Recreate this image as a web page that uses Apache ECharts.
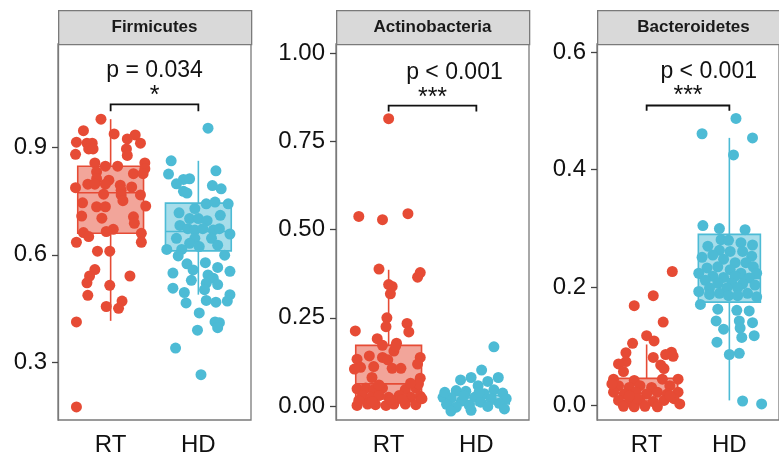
<!DOCTYPE html>
<html><head><meta charset="utf-8">
<script src="https://cdn.jsdelivr.net/npm/echarts@6/dist/echarts.min.js"></script>
<style>html,body{margin:0;padding:0;background:#fff}#c{width:779px;height:457px}</style>
</head><body><div id="c"></div>
<script>
// ---------- data ----------
const groups = ['RT', 'HD'];
const panels = ['Firmicutes', 'Actinobacteria', 'Bacteroidetes'];
const yTicks = [[0.3, 0.6, 0.9], [0, 0.25, 0.5, 0.75, 1.0], [0, 0.2, 0.4, 0.6]];
const yTickLabels = [['0.3', '0.6', '0.9'], ['0.00', '0.25', '0.50', '0.75', '1.00'], ['0.0', '0.2', '0.4', '0.6']];
const yRange = [[0.1397, 1.1875], [-0.0393, 1.0253], [-0.0253, 0.6135]];
const pLabels = ['p = 0.034', 'p < 0.001', 'p < 0.001'];
const starLabels = ['*', '***', '***'];
// bracket: [line value, tick-end value]; p text [x, y]; stars [x, y]
const bracketY = [[1.019, 1.0], [0.851, 0.834], [0.509, 0.500]];
const pTextPos = [[1.5, 1.112], [1.75, 0.944], [1.75, 0.567]];
const starPos = [[1.5, 1.041], [1.5, 0.871], [1.5, 0.525]];

// box stats [min, q1, median, q3, max]
const firmRTBox = [0.416, 0.660, 0.773, 0.847, 0.978];
const firmHDBox = [0.489, 0.611, 0.665, 0.744, 0.862];
const actRTBox = [0.0, 0.020, 0.063, 0.172, 0.386];
const actHDBox = [0.0, 0.006, 0.015, 0.030, 0.066];
const bactRTBox = [0.0, 0.007, 0.020, 0.0455, 0.103];
const bactHDBox = [0.008, 0.175, 0.215, 0.290, 0.454];

// points [jitter offset from group, value]
const firmRT = [[-0.11,0.978],[-0.31,0.946],[0.04,0.937],[0.28,0.934],[0.19,0.923],[-0.39,0.914],[-0.27,0.911],[-0.21,0.911],[0.34,0.911],[-0.25,0.895],[-0.20,0.895],[0.18,0.895],[-0.40,0.880],[0.19,0.877],[-0.18,0.856],[0.39,0.856],[-0.06,0.847],[0.08,0.847],[0.39,0.840],[-0.16,0.831],[0.26,0.826],[0.37,0.826],[-0.16,0.812],[-0.02,0.808],[-0.26,0.797],[-0.18,0.797],[-0.06,0.797],[0.11,0.794],[0.24,0.789],[-0.40,0.787],[0.12,0.780],[-0.08,0.769],[0.12,0.767],[0.34,0.767],[0.14,0.751],[-0.32,0.745],[-0.16,0.734],[-0.06,0.734],[0.40,0.736],[-0.33,0.708],[-0.10,0.702],[0.26,0.706],[0.27,0.688],[0.03,0.671],[-0.05,0.665],[-0.31,0.662],[-0.25,0.651],[0.35,0.660],[-0.39,0.635],[0.35,0.635],[-0.15,0.610],[-0.01,0.610],[-0.18,0.559],[-0.24,0.541],[0.22,0.541],[-0.27,0.522],[-0.01,0.515],[-0.26,0.487],[0.13,0.471],[-0.05,0.456],[0.09,0.451],[-0.39,0.413],[-0.39,0.176]];
const firmHD = [[0.11,0.953],[-0.31,0.862],[0.20,0.834],[-0.34,0.825],[-0.17,0.810],[-0.10,0.812],[-0.25,0.798],[0.16,0.793],[0.26,0.784],[-0.17,0.777],[-0.13,0.772],[0.09,0.742],[0.19,0.747],[0.34,0.742],[-0.04,0.729],[-0.22,0.717],[0.25,0.710],[-0.10,0.701],[0.00,0.701],[0.10,0.695],[-0.21,0.682],[-0.12,0.673],[-0.04,0.669],[0.05,0.673],[0.17,0.669],[0.24,0.673],[0.36,0.658],[-0.25,0.646],[-0.04,0.646],[0.15,0.646],[0.22,0.627],[-0.10,0.632],[0.01,0.623],[-0.36,0.615],[-0.19,0.615],[-0.23,0.597],[0.30,0.599],[-0.13,0.575],[0.08,0.578],[0.22,0.565],[-0.06,0.558],[0.36,0.554],[-0.29,0.549],[0.11,0.544],[0.17,0.535],[-0.08,0.529],[0.09,0.521],[0.22,0.517],[-0.29,0.507],[-0.16,0.495],[0.07,0.503],[0.36,0.489],[-0.14,0.466],[0.09,0.473],[0.20,0.468],[0.33,0.471],[0.01,0.438],[0.19,0.413],[0.24,0.411],[0.22,0.397],[-0.01,0.390],[-0.26,0.340],[0.03,0.266]];
const actRT = [[0.00,0.814],[-0.34,0.537],[-0.07,0.528],[0.22,0.545],[-0.11,0.388],[0.36,0.378],[0.33,0.365],[0.00,0.344],[0.04,0.339],[0.02,0.318],[-0.02,0.250],[-0.03,0.225],[0.21,0.234],[0.23,0.210],[-0.38,0.213],[-0.13,0.191],[0.09,0.178],[-0.07,0.172],[0.06,0.156],[0.36,0.138],[-0.36,0.133],[-0.22,0.142],[-0.07,0.138],[-0.01,0.131],[-0.32,0.110],[-0.17,0.112],[0.04,0.107],[0.14,0.107],[0.33,0.119],[-0.19,0.081],[0.36,0.079],[-0.36,0.049],[-0.26,0.051],[-0.17,0.047],[-0.07,0.051],[0.19,0.047],[0.31,0.051],[-0.30,0.030],[-0.20,0.025],[-0.11,0.030],[0.00,0.025],[0.12,0.030],[0.25,0.025],[0.36,0.028],[-0.36,0.002],[-0.24,0.006],[-0.15,0.004],[-0.03,0.002],[0.06,0.006],[0.19,0.006],[0.31,0.004],[0.38,0.021],[-0.34,0.016],[0.16,0.019],[0.02,0.019],[-0.19,0.013],[0.34,0.063],[-0.39,0.105],[0.08,0.170],[-0.11,0.060],[0.25,0.065]];
const actHD = [[0.20,0.168],[0.06,0.102],[-0.18,0.074],[-0.06,0.081],[0.13,0.070],[0.25,0.081],[0.02,0.058],[0.20,0.046],[-0.23,0.044],[-0.12,0.042],[0.09,0.035],[0.30,0.037],[-0.38,0.025],[-0.29,0.023],[-0.02,0.025],[0.17,0.021],[0.34,0.021],[-0.17,0.014],[0.05,0.011],[0.26,0.008],[-0.34,0.005],[-0.23,-0.003],[-0.08,0.002],[0.13,-0.001],[-0.29,-0.014],[-0.06,-0.012],[0.32,-0.008],[-0.14,0.030],[0.03,0.039],[-0.36,0.039]];
const bactRT = [[0.31,0.227],[0.08,0.186],[-0.15,0.169],[0.20,0.141],[0.00,0.118],[0.09,0.109],[-0.17,0.105],[-0.25,0.089],[0.30,0.090],[0.23,0.086],[0.32,0.083],[0.08,0.081],[-0.25,0.074],[-0.34,0.070],[0.17,0.068],[0.21,0.062],[-0.28,0.057],[-0.40,0.044],[-0.15,0.042],[0.19,0.044],[0.38,0.044],[-0.34,0.033],[-0.21,0.030],[-0.08,0.033],[0.06,0.030],[0.28,0.033],[-0.40,0.022],[-0.27,0.019],[-0.13,0.022],[0.00,0.019],[0.13,0.022],[0.25,0.019],[0.38,0.022],[-0.34,0.008],[-0.21,0.006],[-0.08,0.008],[0.08,0.006],[0.21,0.008],[0.33,0.011],[-0.28,-0.002],[-0.15,-0.003],[-0.02,-0.002],[0.13,-0.003],[0.40,0.002],[-0.42,0.036],[-0.11,0.011],[-0.21,0.016],[0.28,0.016]];
const bactHD = [[0.08,0.487],[-0.33,0.461],[0.28,0.454],[0.05,0.425],[-0.32,0.305],[-0.12,0.300],[0.19,0.298],[-0.10,0.281],[-0.01,0.280],[0.14,0.276],[-0.26,0.270],[0.28,0.272],[-0.12,0.263],[0.01,0.261],[0.16,0.261],[-0.20,0.255],[0.27,0.253],[-0.33,0.251],[-0.07,0.248],[0.07,0.242],[0.20,0.242],[-0.14,0.235],[-0.27,0.233],[0.29,0.235],[0.01,0.230],[-0.37,0.224],[0.14,0.224],[0.33,0.224],[-0.20,0.219],[-0.07,0.217],[0.07,0.219],[0.24,0.216],[-0.29,0.212],[-0.14,0.207],[0.03,0.207],[0.16,0.206],[0.31,0.204],[-0.24,0.199],[-0.03,0.199],[0.10,0.199],[-0.37,0.193],[-0.12,0.190],[0.22,0.190],[-0.24,0.188],[-0.01,0.186],[0.10,0.186],[0.33,0.184],[-0.35,0.171],[-0.14,0.163],[0.09,0.161],[0.24,0.160],[-0.16,0.143],[0.12,0.143],[0.28,0.140],[-0.07,0.129],[0.13,0.131],[0.15,0.115],[0.30,0.118],[-0.15,0.107],[0.00,0.086],[0.12,0.088],[0.16,0.007],[0.39,0.002]];

// ---------- styling ----------
const FONT = 'Liberation Sans, Arial, Helvetica, sans-serif';
const COLORS = ['#E64B35', '#4DBBD5'];
const FILLS = ['rgba(230,75,53,0.5)', 'rgba(77,187,213,0.5)'];
const BORDER = '#7a7a7a';
const gridLeft = [58, 336, 597];
const gridW = 193;
const gridTop = 44, gridH = 379;

const pointsData = [[firmRT, firmHD], [actRT, actHD], [bactRT, bactHD]];
const boxData = [[firmRTBox, firmHDBox], [actRTBox, actHDBox], [bactRTBox, bactHDBox]];

function boxRender(params, api) {
  const x = api.value(0), mn = api.value(1), q1 = api.value(2), md = api.value(3), q3 = api.value(4), mx = api.value(5);
  const gi = api.value(6);
  const col = COLORS[gi];
  const pTop = api.coord([x, mx]), pQ3 = api.coord([x, q3]), pQ1 = api.coord([x, q1]), pBot = api.coord([x, mn]);
  const tl = api.coord([x - 0.375, q3]), br = api.coord([x + 0.375, q1]);
  const ml = api.coord([x - 0.375, md]), mr = api.coord([x + 0.375, md]);
  return {
    type: 'group', children: [
      { type: 'line', shape: { x1: pTop[0], y1: pTop[1], x2: pQ3[0], y2: pQ3[1] }, style: { stroke: col, lineWidth: 1.6 } },
      { type: 'line', shape: { x1: pQ1[0], y1: pQ1[1], x2: pBot[0], y2: pBot[1] }, style: { stroke: col, lineWidth: 1.6 } },
      { type: 'rect', shape: { x: tl[0], y: tl[1], width: br[0] - tl[0], height: br[1] - tl[1] }, style: { fill: FILLS[gi], stroke: col, lineWidth: 1.6 } },
      { type: 'line', shape: { x1: ml[0], y1: ml[1], x2: mr[0], y2: mr[1] }, style: { stroke: col, lineWidth: 1.6 } }
    ]
  };
}

function annotRender(pi) {
  return function (params, api) {
    const a = api.coord([1, bracketY[pi][1]]), b = api.coord([1, bracketY[pi][0]]);
    const c = api.coord([2, bracketY[pi][0]]), d = api.coord([2, bracketY[pi][1]]);
    const pt = api.coord(pTextPos[pi]), st = api.coord(starPos[pi]);
    return {
      type: 'group', children: [
        { type: 'polyline', shape: { points: [a, b, c, d] }, style: { stroke: '#111', lineWidth: 1.8, fill: null } },
        { type: 'text', x: pt[0], y: pt[1], style: { text: pLabels[pi], fill: '#111', fontSize: 23, fontFamily: FONT, align: 'center', verticalAlign: 'middle' } },
        { type: 'text', x: st[0], y: st[1], style: { text: starLabels[pi], fill: '#111', fontSize: 25, fontFamily: FONT, align: 'center', verticalAlign: 'middle' } }
      ]
    };
  };
}

const grid = [], xAxis = [], yAxis = [], series = [], graphic = [];
panels.forEach((name, pi) => {
  grid.push({ left: gridLeft[pi], top: gridTop, width: gridW, height: gridH, show: true, borderColor: BORDER, borderWidth: 1.3, backgroundColor: '#fff', containLabel: false });
  xAxis.push({
    type: 'value', gridIndex: pi, min: 0.4, max: 2.6,
    axisLine: { show: false }, axisTick: { show: false }, splitLine: { show: false },
    axisLabel: { customValues: [1, 2], formatter: v => groups[Math.round(v) - 1], fontSize: 24, color: '#111', fontFamily: FONT, margin: 13 }
  });
  yAxis.push({
    type: 'value', gridIndex: pi, min: yRange[pi][0], max: yRange[pi][1],
    axisLine: { show: true, lineStyle: { color: BORDER, width: 1.3 } },
    axisTick: { show: true, length: 6, customValues: yTicks[pi], lineStyle: { color: '#444', width: 1.3 } },
    splitLine: { show: false },
    axisLabel: {
      customValues: yTicks[pi], fontSize: 24, color: '#111', fontFamily: FONT, margin: 11,
      formatter: v => { const k = yTicks[pi].findIndex(t => Math.abs(t - v) < 1e-9); return k >= 0 ? yTickLabels[pi][k] : ''; }
    }
  });
  series.push({
    type: 'custom', xAxisIndex: pi, yAxisIndex: pi, renderItem: boxRender, z: 2,
    encode: { x: 0, y: [1, 2, 3, 4, 5] },
    data: boxData[pi].map((b, gi) => [gi + 1, ...b, gi])
  });
  pointsData[pi].forEach((pts, gi) => {
    series.push({
      type: 'scatter', xAxisIndex: pi, yAxisIndex: pi, z: 3, symbolSize: 11,
      itemStyle: { color: COLORS[gi], opacity: 1 },
      data: pts.map(p => [gi + 1 + p[0], p[1]])
    });
  });
  series.push({
    type: 'custom', xAxisIndex: pi, yAxisIndex: pi, z: 4, renderItem: annotRender(pi),
    data: [[1.5, bracketY[pi][0]]]
  });
  graphic.push({
    type: 'rect', left: gridLeft[pi], top: 10, shape: { width: gridW, height: 34 },
    style: { fill: '#D9D9D9', stroke: BORDER, lineWidth: 1.3 }
  });
  graphic.push({
    type: 'text', x: gridLeft[pi] + gridW / 2, y: 27,
    style: { text: name, fill: '#1a1a1a', font: 'bold 17px ' + FONT, textAlign: 'center', textVerticalAlign: 'middle' }
  });
});

const chart = echarts.init(document.getElementById('c'), null, { renderer: 'canvas' });
chart.setOption({ animation: false, backgroundColor: '#fff', grid, xAxis, yAxis, series, graphic });
</script>
</body></html>
